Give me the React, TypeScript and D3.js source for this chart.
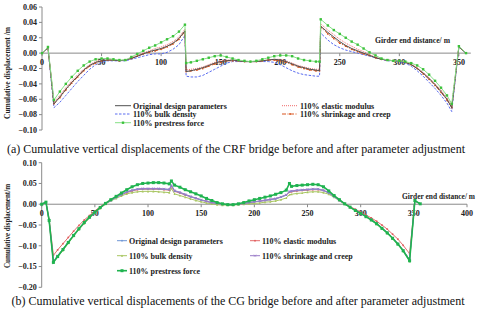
import * as d3 from "d3";
import React from "react";

const FONT = "'Liberation Serif', 'Times New Roman', serif";

// (a) CRF bridge, girder end distance (m) and cumulative displacement (m)
const crfX = [0, 5, 10, 15, 20, 25, 30, 35, 40, 45, 50, 55, 60, 65, 70, 75, 80, 85, 90, 95, 100, 105, 110, 115, 120, 121, 125, 130, 135, 140, 145, 150, 155, 160, 165, 170, 175, 180, 185, 190, 195, 200, 205, 210, 215, 220, 225, 230, 233, 234, 240, 245, 250, 255, 260, 265, 270, 275, 280, 285, 290, 295, 300, 305, 310, 315, 320, 325, 330, 335, 340, 344, 350, 356];
const crfOriginal = [0, 0.007, -0.066, -0.057, -0.047, -0.038, -0.03, -0.022, -0.016, -0.012, -0.01, -0.009, -0.009, -0.01, -0.009, -0.007, -0.004, -0.001, 0.002, 0.004, 0.006, 0.009, 0.013, 0.019, 0.029, -0.024, -0.023, -0.021, -0.019, -0.016, -0.013, -0.011, -0.01, -0.009, -0.01, -0.011, -0.011, -0.011, -0.01, -0.009, -0.008, -0.009, -0.011, -0.014, -0.017, -0.019, -0.021, -0.022, -0.023, 0.035, 0.027, 0.021, 0.015, 0.01, 0.006, 0.003, 0, -0.003, -0.006, -0.008, -0.009, -0.01, -0.01, -0.012, -0.015, -0.02, -0.026, -0.033, -0.041, -0.05, -0.06, -0.071, 0.008, 0];
const crfBulk = [0, 0.007, -0.071, -0.064, -0.055, -0.046, -0.037, -0.029, -0.021, -0.015, -0.012, -0.01, -0.01, -0.01, -0.01, -0.008, -0.006, -0.004, -0.002, -0.001, -0.001, 0.001, 0.005, 0.011, 0.023, -0.03, -0.031, -0.031, -0.029, -0.025, -0.021, -0.017, -0.013, -0.011, -0.011, -0.011, -0.011, -0.011, -0.011, -0.011, -0.012, -0.015, -0.019, -0.023, -0.026, -0.028, -0.029, -0.03, -0.03, 0.026, 0.017, 0.011, 0.007, 0.004, 0.002, 0, -0.002, -0.004, -0.006, -0.008, -0.01, -0.01, -0.011, -0.013, -0.017, -0.023, -0.03, -0.038, -0.046, -0.055, -0.065, -0.076, 0.008, 0];
const crfPrestress = [0, 0.008, -0.061, -0.05, -0.04, -0.031, -0.023, -0.016, -0.011, -0.008, -0.007, -0.007, -0.008, -0.009, -0.009, -0.005, -0.001, 0.003, 0.007, 0.01, 0.014, 0.018, 0.022, 0.028, 0.037, -0.013, -0.012, -0.01, -0.008, -0.006, -0.004, -0.003, -0.005, -0.007, -0.009, -0.01, -0.011, -0.01, -0.008, -0.006, -0.004, -0.003, -0.003, -0.004, -0.007, -0.009, -0.01, -0.011, -0.011, 0.044, 0.036, 0.03, 0.025, 0.02, 0.015, 0.011, 0.006, 0.001, -0.003, -0.007, -0.009, -0.01, -0.01, -0.011, -0.013, -0.016, -0.021, -0.028, -0.036, -0.045, -0.055, -0.066, 0.009, 0];
const crfElastic = [0, 0.007, -0.064, -0.055, -0.045, -0.036, -0.028, -0.021, -0.015, -0.011, -0.009, -0.009, -0.009, -0.01, -0.009, -0.006, -0.003, 0, 0.003, 0.006, 0.008, 0.011, 0.015, 0.021, 0.031, -0.022, -0.021, -0.02, -0.018, -0.015, -0.012, -0.01, -0.009, -0.009, -0.01, -0.011, -0.011, -0.011, -0.01, -0.009, -0.008, -0.008, -0.01, -0.013, -0.016, -0.018, -0.02, -0.021, -0.021, 0.038, 0.03, 0.024, 0.018, 0.013, 0.009, 0.005, 0.002, -0.002, -0.005, -0.008, -0.009, -0.01, -0.01, -0.012, -0.014, -0.019, -0.025, -0.032, -0.04, -0.048, -0.058, -0.068, 0.008, 0];
const crfShrink = [0, 0.007, -0.066, -0.058, -0.048, -0.039, -0.031, -0.023, -0.017, -0.013, -0.01, -0.009, -0.009, -0.01, -0.009, -0.007, -0.004, -0.001, 0.001, 0.003, 0.005, 0.008, 0.012, 0.018, 0.028, -0.024, -0.023, -0.022, -0.02, -0.017, -0.014, -0.012, -0.01, -0.01, -0.01, -0.011, -0.011, -0.011, -0.01, -0.009, -0.009, -0.01, -0.012, -0.015, -0.018, -0.02, -0.022, -0.023, -0.023, 0.034, 0.025, 0.019, 0.013, 0.009, 0.005, 0.002, -0.001, -0.003, -0.006, -0.008, -0.009, -0.01, -0.01, -0.012, -0.015, -0.02, -0.027, -0.034, -0.042, -0.051, -0.061, -0.071, 0.008, 0];

// (b) CG bridge
const cgX = [0, 4, 7, 11, 15, 20, 25, 30, 35, 40, 45, 50, 55, 60, 65, 70, 75, 80, 85, 90, 95, 100, 105, 110, 115, 120, 122, 125, 130, 135, 140, 145, 150, 155, 160, 165, 170, 175, 180, 185, 190, 195, 200, 205, 210, 215, 220, 225, 230, 233, 235, 240, 245, 250, 255, 260, 265, 270, 275, 280, 285, 290, 295, 300, 305, 310, 315, 320, 325, 330, 335, 340, 346, 351, 356];
const cgOriginal = [0, 0.005, -0.04, -0.137, -0.124, -0.108, -0.091, -0.075, -0.059, -0.045, -0.032, -0.02, -0.009, 0.001, 0.009, 0.016, 0.023, 0.029, 0.033, 0.036, 0.037, 0.037, 0.037, 0.037, 0.036, 0.035, 0.045, 0.032, 0.028, 0.023, 0.018, 0.014, 0.01, 0.007, 0.004, 0.002, 0, -0.001, -0.001, 0, 0.002, 0.004, 0.006, 0.007, 0.009, 0.011, 0.013, 0.017, 0.022, 0.03, 0.031, 0.033, 0.034, 0.035, 0.036, 0.036, 0.033, 0.027, 0.018, 0.009, 0.001, -0.007, -0.014, -0.021, -0.029, -0.037, -0.046, -0.057, -0.068, -0.081, -0.095, -0.111, -0.133, 0.008, 0.001];
const cgElastic = [0, 0.005, -0.036, -0.123, -0.11, -0.095, -0.08, -0.065, -0.051, -0.038, -0.027, -0.016, -0.006, 0.003, 0.01, 0.017, 0.023, 0.028, 0.032, 0.035, 0.036, 0.036, 0.036, 0.036, 0.035, 0.034, 0.043, 0.031, 0.027, 0.022, 0.018, 0.014, 0.01, 0.007, 0.004, 0.002, 0, -0.001, -0.001, 0, 0.002, 0.004, 0.006, 0.007, 0.009, 0.011, 0.013, 0.017, 0.022, 0.029, 0.03, 0.032, 0.033, 0.034, 0.035, 0.035, 0.033, 0.027, 0.019, 0.01, 0.002, -0.006, -0.012, -0.019, -0.026, -0.033, -0.041, -0.05, -0.06, -0.072, -0.084, -0.099, -0.119, 0.008, 0.001];
const cgBulk = [0, 0.005, -0.041, -0.14, -0.127, -0.111, -0.094, -0.077, -0.061, -0.047, -0.033, -0.021, -0.01, 0, 0.008, 0.014, 0.02, 0.025, 0.028, 0.03, 0.031, 0.031, 0.031, 0.03, 0.029, 0.028, 0.038, 0.025, 0.021, 0.017, 0.013, 0.009, 0.006, 0.003, 0.001, -0.001, -0.002, -0.002, -0.002, -0.001, 0, 0.001, 0.002, 0.003, 0.005, 0.006, 0.008, 0.011, 0.015, 0.023, 0.024, 0.026, 0.027, 0.029, 0.03, 0.03, 0.028, 0.024, 0.017, 0.008, 0, -0.008, -0.015, -0.022, -0.03, -0.038, -0.048, -0.059, -0.07, -0.083, -0.097, -0.113, -0.137, 0.008, 0.001];
const cgShrink = [0, 0.005, -0.04, -0.137, -0.124, -0.108, -0.091, -0.075, -0.059, -0.045, -0.032, -0.02, -0.009, 0.001, 0.009, 0.017, 0.024, 0.03, 0.034, 0.037, 0.038, 0.038, 0.038, 0.038, 0.037, 0.036, 0.046, 0.033, 0.029, 0.024, 0.019, 0.015, 0.011, 0.007, 0.004, 0.002, 0, -0.001, -0.001, 0, 0.002, 0.004, 0.006, 0.008, 0.01, 0.012, 0.014, 0.018, 0.023, 0.031, 0.032, 0.034, 0.035, 0.036, 0.037, 0.037, 0.034, 0.028, 0.019, 0.009, 0.001, -0.007, -0.014, -0.021, -0.029, -0.037, -0.046, -0.057, -0.068, -0.081, -0.095, -0.111, -0.133, 0.008, 0.001];
const cgPrestress = [0, 0.005, -0.039, -0.14, -0.126, -0.109, -0.092, -0.075, -0.059, -0.044, -0.031, -0.019, -0.008, 0.002, 0.011, 0.019, 0.027, 0.035, 0.042, 0.047, 0.05, 0.051, 0.052, 0.052, 0.051, 0.049, 0.056, 0.046, 0.041, 0.035, 0.03, 0.025, 0.02, 0.014, 0.009, 0.004, 0.001, -0.001, -0.001, 0.001, 0.004, 0.008, 0.011, 0.014, 0.017, 0.02, 0.024, 0.028, 0.034, 0.05, 0.043, 0.045, 0.046, 0.047, 0.048, 0.047, 0.042, 0.032, 0.021, 0.011, 0.001, -0.007, -0.015, -0.022, -0.03, -0.038, -0.047, -0.058, -0.069, -0.082, -0.096, -0.112, -0.136, 0.009, 0.001];

const crfYTicks = [-0.1, -0.08, -0.06, -0.04, -0.02, 0, 0.02, 0.04, 0.06];
const crfXTicks = [0, 50, 100, 150, 200, 250, 300, 350];
const cgYTicks = [-0.2, -0.15, -0.1, -0.05, 0, 0.05, 0.1];
const cgXTicks = [0, 50, 100, 150, 200, 250, 300, 350, 400];

type Marker = "square" | "dot" | "tri" | "cross" | "none";
type Series = {
  name: string;
  values: number[];
  color: string;
  width: number;
  dash?: string;
  marker: Marker;
  mcolor?: string;
  msize?: number;
  legend: [number, number];
};

function Mark({ kind, x, y, color, size }: { kind: Marker; x: number; y: number; color: string; size: number }) {
  if (kind === "square")
    return <rect x={x - size / 2} y={y - size / 2} width={size} height={size} fill={color} />;
  if (kind === "dot") return <circle cx={x} cy={y} r={size / 2} fill={color} />;
  if (kind === "tri") {
    const s = size / 2;
    return <path d={`M${x},${y - s}L${x + s},${y + s}L${x - s},${y + s}Z`} fill={color} />;
  }
  if (kind === "cross") {
    const s = size / 2;
    return (
      <path d={`M${x - s},${y - s}L${x + s},${y + s}M${x - s},${y + s}L${x + s},${y - s}`} stroke={color} strokeWidth={0.8} />
    );
  }
  return null;
}

function Panel({
  xs,
  series,
  x,
  y,
  xTicks,
  yTicks,
  yFmt,
  xTickDy,
  legendLen,
  yTitle,
  titleY,
  titleLen,
  girder,
  girderText,
}: {
  xs: number[];
  series: Series[];
  x: d3.ScaleLinear<number, number>;
  y: d3.ScaleLinear<number, number>;
  xTicks: number[];
  yTicks: number[];
  yFmt: (v: number) => string;
  xTickDy: number;
  legendLen: number;
  yTitle: string;
  titleY: number;
  titleLen: number;
  girder: [number, number, number];
  girderText: string;
}) {
  const line = d3
    .line<number>()
    .x((_, i) => x(xs[i]))
    .y((d) => y(d));
  const [x0, x1] = x.range();
  const [yb, yt] = y.range();
  const y0 = y(0);
  return (
    <g>
      <line x1={x0} x2={x0} y1={yt} y2={yb} stroke="#8a8a8a" strokeWidth={1} />
      {yTicks.map((t) => (
        <g key={t}>
          <line x1={x0 - 3} x2={x0} y1={y(t)} y2={y(t)} stroke="#8a8a8a" />
          <text x={x0 - 5} y={y(t) + 2.8} textAnchor="end" fontSize={8} fontWeight="bold" fill="#222">
            {yFmt(t)}
          </text>
        </g>
      ))}
      <line x1={x0} x2={x1} y1={y0} y2={y0} stroke="#8a8a8a" strokeWidth={1} />
      {xTicks.map((t) => (
        <g key={t}>
          <line x1={x(t)} x2={x(t)} y1={y0} y2={y0 + 3} stroke="#8a8a8a" />
          <text x={x(t)} y={y0 + xTickDy} textAnchor="middle" fontSize={8} fontWeight="bold" fill="#222">
            {t}
          </text>
        </g>
      ))}
      <text
        transform={`translate(${x0 - 32},${titleY}) rotate(-90)`}
        textAnchor="middle"
        fontSize={8}
        fontWeight="bold"
        fill="#222"
        textLength={titleLen}
        lengthAdjust="spacingAndGlyphs"
      >
        {yTitle}
      </text>
      <text
        x={girder[0]}
        y={girder[1]}
        fontSize={8}
        fontWeight="bold"
        fill="#222"
        textLength={girder[2]}
        lengthAdjust="spacingAndGlyphs"
      >
        {girderText}
      </text>
      {series.map((s) => (
        <g key={s.name}>
          <path d={line(s.values) ?? ""} fill="none" stroke={s.color} strokeWidth={s.width} strokeDasharray={s.dash} />
          {s.marker !== "none" &&
            s.values.map((v, i) => (
              <Mark key={i} kind={s.marker} x={x(xs[i])} y={y(v)} color={s.mcolor ?? s.color} size={s.msize ?? 2} />
            ))}
        </g>
      ))}
      {series.map((s) => {
        const [lx, ly] = s.legend;
        return (
          <g key={"lg" + s.name}>
            <line x1={lx} x2={lx + legendLen} y1={ly} y2={ly} stroke={s.color} strokeWidth={s.width} strokeDasharray={s.dash} />
            {s.marker !== "none" && (
              <Mark kind={s.marker} x={lx + legendLen / 2} y={ly} color={s.mcolor ?? s.color} size={s.msize ?? 2} />
            )}
            <text x={lx + legendLen + 2} y={ly + 2.8} fontSize={8} fontWeight="bold" fill="#222">
              {s.name}
            </text>
          </g>
        );
      })}
    </g>
  );
}

export default function App() {
  const xa = d3.scaleLinear().domain([0, 360]).range([42, 470.8]);
  const ya = d3.scaleLinear().domain([-0.1, 0.06]).range([130, 7]);
  const xb = d3.scaleLinear().domain([0, 400]).range([41.7, 467]);
  const yb = d3.scaleLinear().domain([-0.2, 0.1]).range([287.3, 162.7]);

  const crfSeries: Series[] = [
    { name: "110% bulk density", values: crfBulk, color: "#5a6cf0", width: 1, dash: "2.5,1.5", marker: "none", legend: [115, 114] },
    { name: "110% elastic modulus", values: crfElastic, color: "#f06a6a", width: 1, dash: "1,1", marker: "none", legend: [282, 105.7] },
    { name: "110% shrinkage and creep", values: crfShrink, color: "#d9541e", width: 1, dash: "4,1.5,1,1.5", marker: "dot", msize: 1.8, legend: [282, 114] },
    { name: "Original design parameters", values: crfOriginal, color: "#505050", width: 1, marker: "none", legend: [115, 105.7] },
    { name: "110% prestress force", values: crfPrestress, color: "#86e086", width: 1, marker: "square", mcolor: "#3cc23c", msize: 2.4, legend: [115, 122.7] },
  ];

  const cgSeries: Series[] = [
    { name: "110% bulk density", values: cgBulk, color: "#a8c660", width: 1, marker: "tri", msize: 2.2, legend: [117, 255.7] },
    { name: "110% elastic modulus", values: cgElastic, color: "#e05a5a", width: 0.9, marker: "square", msize: 1.6, legend: [250, 240.7] },
    { name: "Original design parameters", values: cgOriginal, color: "#6f97d6", width: 1, marker: "dot", msize: 1.8, legend: [117, 240.7] },
    { name: "110% shrinkage and creep", values: cgShrink, color: "#9a7cc8", width: 1, marker: "cross", msize: 2, legend: [250, 255.7] },
    { name: " 110% prestress force", values: cgPrestress, color: "#1fb34f", width: 1.6, marker: "square", msize: 3, legend: [117, 270.7] },
  ];

  const fmt2 = d3.format(".2f");

  return (
    <svg
      width={480}
      height={310}
      style={{ position: "absolute", left: 0, top: 0, background: "#fff" }}
      fontFamily={FONT}
    >
      <rect width={480} height={310} fill="#fff" />
      <Panel
        xs={crfX}
        series={crfSeries}
        x={xa}
        y={ya}
        xTicks={crfXTicks}
        yTicks={crfYTicks}
        yFmt={fmt2}
        xTickDy={11.5}
        legendLen={16}
        yTitle="Cumulative displacement /m"
        titleY={73}
        titleLen={92}
        girder={[375, 42.5, 75]}
        girderText="Girder  end distance/ m"
      />
      <text x={236} y={153} textAnchor="middle" fontSize={12} fill="#111" textLength={458} lengthAdjust="spacingAndGlyphs">
        (a) Cumulative vertical displacements of the CRF bridge before and after parameter adjustment
      </text>
      <Panel
        xs={cgX}
        series={cgSeries}
        x={xb}
        y={yb}
        xTicks={cgXTicks}
        yTicks={cgYTicks}
        yFmt={fmt2}
        xTickDy={11.5}
        legendLen={10}
        yTitle="Cumulative displacement/m"
        titleY={226}
        titleLen={84}
        girder={[402, 198.5, 73]}
        girderText="Girder end distance/ m"
      />
      <text x={238} y={305} textAnchor="middle" fontSize={12} fill="#111" textLength={453} lengthAdjust="spacingAndGlyphs">
        (b) Cumulative vertical displacements of the CG bridge before and after parameter adjustment
      </text>
    </svg>
  );
}
